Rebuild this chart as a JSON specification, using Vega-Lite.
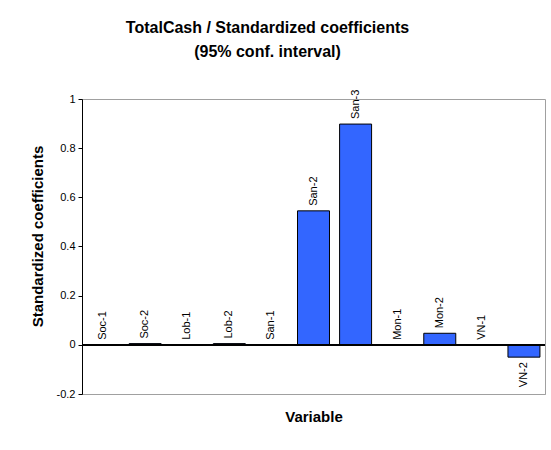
{
  "$schema": "https://vega.github.io/schema/vega-lite/v6.json",
  "autosize": "none",
  "width": 463,
  "height": 295,
  "padding": {"left": 82, "top": 99, "right": 6, "bottom": 56},
  "background": "white",
  "config": {
    "font": "Liberation Sans",
    "view": {"stroke": "#a0a0a0", "strokeWidth": 1}
  },
  "title": {
    "text": ["TotalCash / Standardized coefficients", "(95% conf. interval)"],
    "font": "Liberation Sans",
    "fontSize": 16,
    "fontWeight": "bold",
    "color": "black",
    "lineHeight": 24,
    "anchor": "middle",
    "dx": -46,
    "offset": 30
  },
  "data": {
    "values": [
      {"variable": "Soc-1", "coef": 0},
      {"variable": "Soc-2", "coef": 0.005},
      {"variable": "Lob-1", "coef": 0},
      {"variable": "Lob-2", "coef": 0.005},
      {"variable": "San-1", "coef": 0},
      {"variable": "San-2", "coef": 0.545},
      {"variable": "San-3", "coef": 0.898},
      {"variable": "Mon-1", "coef": 0},
      {"variable": "Mon-2", "coef": 0.047},
      {"variable": "VN-1", "coef": 0},
      {"variable": "VN-2", "coef": -0.05}
    ]
  },
  "encoding": {
    "x": {
      "field": "variable",
      "type": "nominal",
      "sort": null,
      "scale": {"paddingInner": 0.24, "paddingOuter": 0.12},
      "axis": {
        "title": "Variable",
        "titleFont": "Liberation Sans",
        "titleFontSize": 15,
        "titleFontWeight": "bold",
        "titleColor": "black",
        "titleBaseline": "top",
        "titlePadding": 15,
        "labels": false,
        "ticks": false,
        "domainColor": "#a0a0a0"
      }
    }
  },
  "layer": [
    {
      "mark": {"type": "bar", "color": "#3366FF", "stroke": "black", "strokeWidth": 1},
      "encoding": {
        "y": {
          "field": "coef",
          "type": "quantitative",
          "scale": {"domain": [-0.2, 1], "nice": false, "zero": false},
          "axis": {
            "title": "Standardized coefficients",
            "titleFont": "Liberation Sans",
            "titleFontSize": 15,
            "titleFontWeight": "bold",
            "titleColor": "black",
            "titleAngle": -90,
            "titleAlign": "center",
            "titleBaseline": "middle",
            "titleX": -45,
            "titleY": 137,
            "values": [-0.2, 0, 0.2, 0.4, 0.6, 0.8, 1],
            "labelExpr": "'' + round(datum.value * 10) / 10",
            "labelFont": "Liberation Sans",
            "labelFontSize": 11,
            "labelColor": "black",
            "labelPadding": 3,
            "tickSize": 4,
            "tickColor": "black",
            "domainColor": "black",
            "grid": false
          }
        }
      }
    },
    {
      "mark": {"type": "rule", "color": "black", "strokeWidth": 1},
      "encoding": {"y": {"datum": 0, "type": "quantitative"}, "x": null}
    },
    {
      "transform": [{"filter": "datum.coef >= 0"}],
      "mark": {"type": "text", "angle": -90, "align": "left", "baseline": "middle", "dx": 5, "fontSize": 11, "font": "Liberation Sans", "color": "black"},
      "encoding": {
        "y": {"field": "coef", "type": "quantitative"},
        "text": {"field": "variable"}
      }
    },
    {
      "transform": [{"filter": "datum.coef < 0"}],
      "mark": {"type": "text", "angle": -90, "align": "right", "baseline": "middle", "dx": -5, "fontSize": 11, "font": "Liberation Sans", "color": "black"},
      "encoding": {
        "y": {"field": "coef", "type": "quantitative"},
        "text": {"field": "variable"}
      }
    }
  ]
}
